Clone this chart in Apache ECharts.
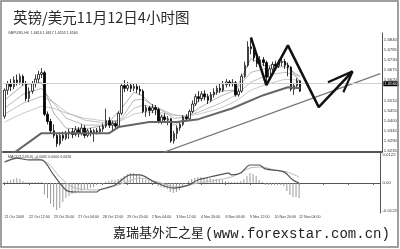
<!DOCTYPE html>
<html>
<head>
<meta charset="utf-8">
<script src="https://cdn.jsdelivr.net/npm/echarts@6/dist/echarts.min.js"></script>
<style>
  html, body { margin: 0; padding: 0; background: #fff; }
  #chart { width: 400px; height: 249px; }
</style>
</head>
<body>
<div id="chart"></div>
<script>
// GBP/USD 4-hour bars from 21 Oct 2009 04:00: [open, close, low, high]
const candles = [
  [1.6424,1.6565,1.6410,1.6575],[1.6565,1.6600,1.6540,1.6615],[1.6600,1.6585,1.6560,1.6625],
  [1.6585,1.6620,1.6570,1.6640],[1.6620,1.6608,1.6590,1.6650],[1.6608,1.6640,1.6595,1.6655],
  [1.6640,1.6600,1.6590,1.6650],[1.6600,1.6520,1.6505,1.6615],[1.6520,1.6560,1.6500,1.6580],
  [1.6560,1.6600,1.6545,1.6615],[1.6600,1.6625,1.6580,1.6650],[1.6625,1.6650,1.6605,1.6670],
  [1.6650,1.6660,1.6630,1.6685],[1.6660,1.6435,1.6425,1.6670],[1.6435,1.6395,1.6380,1.6450],
  [1.6395,1.6345,1.6330,1.6410],[1.6345,1.6320,1.6305,1.6380],[1.6320,1.6275,1.6258,1.6330],
  [1.6275,1.6320,1.6265,1.6335],[1.6320,1.6305,1.6290,1.6340],[1.6305,1.6330,1.6295,1.6345],
  [1.6330,1.6340,1.6300,1.6355],[1.6340,1.6325,1.6305,1.6360],[1.6325,1.6350,1.6315,1.6370],
  [1.6350,1.6330,1.6310,1.6365],[1.6330,1.6360,1.6320,1.6380],[1.6360,1.6320,1.6305,1.6375],
  [1.6320,1.6345,1.6310,1.6355],[1.6345,1.6330,1.6315,1.6360],[1.6330,1.6345,1.6285,1.6355],
  [1.6345,1.6340,1.6325,1.6360],[1.6340,1.6355,1.6330,1.6370],[1.6355,1.6370,1.6340,1.6385],
  [1.6370,1.6400,1.6360,1.6465],[1.6400,1.6375,1.6360,1.6420],[1.6375,1.6385,1.6345,1.6400],
  [1.6385,1.6370,1.6355,1.6395],[1.6370,1.6440,1.6360,1.6450],[1.6440,1.6590,1.6430,1.6600],
  [1.6590,1.6575,1.6555,1.6620],[1.6575,1.6590,1.6560,1.6610],[1.6590,1.6575,1.6555,1.6605],
  [1.6575,1.6585,1.6560,1.6600],[1.6585,1.6570,1.6550,1.6600],[1.6570,1.6560,1.6540,1.6590],
  [1.6560,1.6450,1.6440,1.6570],[1.6450,1.6470,1.6420,1.6485],[1.6470,1.6455,1.6425,1.6480],
  [1.6455,1.6470,1.6440,1.6490],[1.6470,1.6460,1.6430,1.6485],[1.6460,1.6395,1.6385,1.6470],
  [1.6395,1.6420,1.6380,1.6430],[1.6420,1.6405,1.6390,1.6440],[1.6405,1.6410,1.6375,1.6425],
  [1.6410,1.6290,1.6280,1.6415],[1.6290,1.6330,1.6275,1.6345],[1.6330,1.6360,1.6300,1.6375],
  [1.6360,1.6380,1.6345,1.6395],[1.6380,1.6420,1.6370,1.6430],[1.6420,1.6410,1.6395,1.6435],
  [1.6410,1.6450,1.6400,1.6460],[1.6450,1.6490,1.6440,1.6510],[1.6490,1.6530,1.6480,1.6545],
  [1.6530,1.6520,1.6500,1.6560],[1.6520,1.6545,1.6505,1.6560],[1.6545,1.6530,1.6510,1.6565],
  [1.6530,1.6510,1.6490,1.6545],[1.6510,1.6540,1.6500,1.6555],[1.6540,1.6555,1.6525,1.6575],
  [1.6555,1.6575,1.6540,1.6590],[1.6575,1.6565,1.6550,1.6600],[1.6565,1.6595,1.6555,1.6615],
  [1.6595,1.6610,1.6580,1.6625],[1.6610,1.6600,1.6585,1.6620],[1.6600,1.6605,1.6585,1.6625],
  [1.6605,1.6540,1.6530,1.6615],[1.6540,1.6560,1.6530,1.6575],[1.6560,1.6640,1.6550,1.6655],
  [1.6640,1.6700,1.6630,1.6720],[1.6700,1.6800,1.6690,1.6830],[1.6800,1.6790,1.6760,1.6845],
  [1.6790,1.6740,1.6720,1.6800],[1.6740,1.6710,1.6690,1.6760],[1.6710,1.6730,1.6700,1.6750],
  [1.6730,1.6715,1.6695,1.6745],[1.6715,1.6635,1.6610,1.6725],[1.6635,1.6680,1.6620,1.6695],
  [1.6680,1.6705,1.6665,1.6720],[1.6705,1.6695,1.6680,1.6725],[1.6695,1.6715,1.6685,1.6730],
  [1.6715,1.6720,1.6695,1.6740],[1.6720,1.6700,1.6680,1.6735],[1.6700,1.6690,1.6640,1.6715],
  [1.6690,1.6570,1.6560,1.6695],[1.6570,1.6590,1.6540,1.6605],[1.6590,1.6616,1.6575,1.6630],
  [1.6616,1.6560,1.6555,1.6617]
];

// Time-axis labels, one every 8 bars
const tickLabels = ['21 Oct 2009','22 Oct 12:00','23 Oct 20:00','27 Oct 04:00','28 Oct 12:00',
  '29 Oct 20:00','2 Nov 04:00','3 Nov 12:00','4 Nov 20:00','6 Nov 04:00','9 Nov 12:00',
  '10 Nov 20:00','12 Nov 04:00'];
const labelEvery = 8;
// bar slots including the empty space kept to the right of the last bar
const slotCount = 123;

// Price-scale labels (the current-price tag covers 1.6565)
const priceLabels = ['1.6235','1.6290','1.6345','1.6400','1.6455','1.6510',
  '1.6620','1.6675','1.6730','1.6785','1.6840'];
const macdLabels = ['-0.0122','0.00','0.0122'];

// Moving-average fan, [bar, price]
const maFast = [[0,1.6511],[6,1.6592],[12,1.6608],[16,1.6440],[20,1.6359],[26,1.6354],[33,1.6376],
  [38,1.6467],[42,1.6554],[45,1.6532],[50,1.6446],[55,1.6376],[59,1.6413],[63,1.6511],[70,1.6559],
  [75,1.6565],[80,1.6737],[85,1.6694],[91,1.6721],[96,1.6608]];
const maMid1 = [[0,1.6467],[6,1.6543],[12,1.6575],[16,1.6494],[20,1.6413],[26,1.6376],[33,1.6376],
  [38,1.6413],[42,1.6511],[45,1.6516],[50,1.6467],[55,1.6413],[59,1.6419],[63,1.6467],[70,1.6532],
  [75,1.6565],[80,1.6662],[85,1.6683],[91,1.6694],[96,1.6640]];
const maMid2 = [[0,1.6435],[6,1.6494],[12,1.6532],[16,1.6500],[20,1.6446],[26,1.6403],[33,1.6386],
  [38,1.6403],[42,1.6467],[45,1.6484],[50,1.6467],[55,1.6430],[59,1.6424],[63,1.6446],[70,1.6494],
  [75,1.6538],[80,1.6608],[85,1.6646],[91,1.6662],[96,1.6640]];
const maSlow = [[0,1.6392],[6,1.6440],[12,1.6478],[16,1.6467],[20,1.6440],[26,1.6413],[33,1.6397],
  [38,1.6403],[42,1.6435],[45,1.6446],[50,1.6446],[55,1.6430],[59,1.6424],[63,1.6435],[70,1.6467],
  [75,1.6505],[80,1.6565],[85,1.6597],[91,1.6624],[96,1.6619]];
const maLong = [[0,1.6205],[3,1.6224],[12,1.6332],[34,1.6332],[37,1.6365],[47,1.6392],[56,1.6392],
  [63,1.6408],[74,1.6467],[84,1.6538],[92,1.6581],[96,1.6575]];

// Rising support line and the hand-drawn projected path
const trendLine = [[51,1.6224],[122,1.6655]];
const projection = [[80,1.6851],[85,1.6592],[92,1.6808],[102,1.6473],[113,1.6667]];
const arrowBarbA = [[105,1.6608],[113,1.6667]];
const arrowBarbB = [[110,1.6554],[113,1.6667]];

// MACD(12,26,9): histogram per bar, main and signal lines as [bar, value]
const macdHist = [
  0.0004,0.0009,0.0013,0.0017,0.0022,0.0017,0.0009,0.0004,0.0004,0.0004,
  0.0004,0.0004,0.0004,-0.0050,-0.0065,-0.0090,-0.0104,-0.0117,-0.0108,-0.0082,
  -0.0065,-0.0056,-0.0048,-0.0043,-0.0039,-0.0035,-0.0030,-0.0026,-0.0022,-0.0017,
  -0.0009,-0.0004,-0.0004,0.0004,0.0009,0.0013,0.0013,0.0017,0.0022,0.0030,
  0.0039,0.0043,0.0043,0.0039,0.0035,0.0022,0.0013,0.0013,0.0009,0.0004,
  -0.0013,-0.0017,-0.0022,-0.0026,-0.0039,-0.0043,-0.0039,-0.0030,-0.0017,-0.0004,
  0.0009,0.0017,0.0022,0.0026,0.0026,0.0022,0.0022,0.0022,0.0017,0.0017,
  0.0013,0.0013,0.0009,0.0004,0.0004,0.0004,0.0004,0.0009,0.0017,0.0030,
  0.0043,0.0039,0.0030,0.0013,0.0004,-0.0009,-0.0009,-0.0009,-0.0009,-0.0009,
  -0.0009,-0.0013,-0.0035,-0.0052,-0.0061,-0.0061,-0.0065
];
const macdMain = [[0,0.0091],[4,0.0108],[8,0.0100],[12,0.0100],[16,0.0035],[20,-0.0030],[23,-0.0039],
  [30,-0.0039],[31,-0.0030],[36,-0.0009],[39,0.0022],[41,0.0035],[44,0.0035],[49,0.0004],[55,-0.0022],
  [60,-0.0009],[63,0.0013],[70,0.0035],[73,0.0043],[74,0.0035],[77,0.0043],[80,0.0078],[83,0.0078],
  [85,0.0061],[91,0.0048],[94,0.0013],[96,0.0000]];
const macdSignal = [[0,0.0091],[7,0.0113],[14,0.0087],[18,0.0026],[23,-0.0022],[30,-0.0030],[39,0.0000],
  [44,0.0022],[50,0.0004],[56,-0.0017],[63,0.0000],[74,0.0026],[80,0.0065],[84,0.0069],[88,0.0056],
  [92,0.0048],[96,0.0026]];

const categories = Array.from({ length: slotCount }, (_, i) => String(i));
const lastBar = candles[candles.length - 1];
const lastClose = lastBar[1].toFixed(4);
const headerText = 'GBPUSD,H4  ' + [lastBar[0], lastBar[3], lastBar[2], lastBar[1]].map(v => v.toFixed(4)).join(' ');
const macdHeader = 'MACD(12,26,9)  ' + macdHist[macdHist.length - 1].toFixed(4) + ' ' +
  macdMain[macdMain.length - 1][1].toFixed(4) + ' ' + macdSignal[macdSignal.length - 1][1].toFixed(4);

const axisFont = 'Liberation Sans';
const lineSeries = (data, color, width, extra) => Object.assign({
  type: 'line', data, xAxisIndex: 0, yAxisIndex: 0, showSymbol: false, symbol: 'none',
  silent: true, lineStyle: { color, width }, z: 3
}, extra || {});

const chart = echarts.init(document.getElementById('chart'), null, { renderer: 'canvas' });
chart.setOption({
  animation: false,
  backgroundColor: '#fff',
  grid: [
    { left: 3, right: 17, top: 33, height: 119 },
    { left: 3, right: 17, top: 153, height: 60 }
  ],
  xAxis: [
    {
      type: 'category', gridIndex: 0, data: categories, boundaryGap: true,
      axisLine: { show: true, lineStyle: { color: '#555', width: 2 } },
      axisTick: { show: false }, axisLabel: { show: false }, splitLine: { show: false }
    },
    {
      type: 'category', gridIndex: 1, data: categories, boundaryGap: true,
      axisLine: { show: true, lineStyle: { color: '#555', width: 1 } },
      axisTick: { show: true, interval: labelEvery - 1, length: 2, alignWithLabel: true, lineStyle: { color: '#666' } },
      axisLabel: {
        interval: labelEvery - 1, align: 'left', margin: 2, fontSize: 3.6, color: '#333', fontFamily: axisFont,
        formatter: (v, i) => (i % labelEvery === 0 && tickLabels[i / labelEvery]) || ''
      },
      splitLine: { show: false }
    }
  ],
  yAxis: [
    {
      type: 'value', gridIndex: 0, position: 'right', min: 1.6230, max: 1.6875, interval: 0.0005,
      axisLine: { show: true, lineStyle: { color: '#555', width: 1 } },
      axisTick: { show: false }, splitLine: { show: false },
      axisLabel: {
        margin: 2, fontSize: 4.3, color: '#333', fontFamily: axisFont,
        formatter: v => { const s = v.toFixed(4); return priceLabels.includes(s) ? s : ''; }
      }
    },
    {
      type: 'value', gridIndex: 1, position: 'right', min: -0.0130, max: 0.0130, interval: 0.0001,
      axisLine: { show: true, lineStyle: { color: '#555', width: 1 } },
      axisTick: { show: false }, splitLine: { show: false },
      axisLabel: {
        margin: 2, fontSize: 4.3, color: '#333', fontFamily: axisFont,
        formatter: v => {
          for (const l of macdLabels) { if (Math.abs(v - parseFloat(l)) < 5e-6) return l; }
          return '';
        }
      }
    }
  ],
  series: [
    lineSeries(maSlow, '#bdbdbd', 0.8, { z: 1 }),
    lineSeries(maMid2, '#b0b0b0', 0.8, { z: 1 }),
    lineSeries(maMid1, '#a6a6a6', 0.8, { z: 1 }),
    lineSeries(maFast, '#9a9a9a', 0.8, { z: 1 }),
    {
      name: 'GBPUSD,H4', type: 'candlestick', data: candles, xAxisIndex: 0, yAxisIndex: 0,
      barWidth: 2, silent: true, z: 2,
      itemStyle: { color: '#fff', color0: '#000', borderColor: '#111', borderColor0: '#000', borderWidth: 0.8 },
      markLine: {
        silent: true, symbol: 'none', animation: false,
        lineStyle: { color: '#cfcfcf', width: 1, type: 'solid' },
        label: {
          show: true, position: 'end', distance: 1.5, formatter: lastClose,
          backgroundColor: '#000', color: '#fff', fontSize: 4.3, fontFamily: axisFont, padding: [0.5, 1]
        },
        data: [{ yAxis: lastBar[1] }]
      }
    },
    lineSeries(maLong, '#666', 2, { z: 3 }),
    lineSeries(trendLine, '#777', 1.2, { z: 4 }),
    lineSeries(projection, '#111', 2.5, { z: 5 }),
    lineSeries(arrowBarbA, '#111', 2.2, { z: 5 }),
    lineSeries(arrowBarbB, '#111', 2.2, { z: 5 }),
    {
      type: 'bar', data: macdHist, xAxisIndex: 1, yAxisIndex: 1, barWidth: 1, silent: true,
      itemStyle: { color: '#9a9a9a' }
    },
    {
      type: 'line', data: macdSignal, xAxisIndex: 1, yAxisIndex: 1, showSymbol: false, symbol: 'none',
      smooth: 0.3, silent: true, lineStyle: { color: '#bbb', width: 1 }
    },
    {
      type: 'line', data: macdMain, xAxisIndex: 1, yAxisIndex: 1, showSymbol: false, symbol: 'none',
      smooth: 0.3, silent: true, lineStyle: { color: '#555', width: 1.2 }
    }
  ],
  graphic: [
    {
      type: 'rect', silent: true, z: 100,
      shape: { x: 1, y: 1, width: 397, height: 246 },
      style: { fill: 'none', stroke: '#808080', lineWidth: 1.5 }
    },
    {
      type: 'text', left: 13, top: 10, silent: true,
      style: { text: '英镑/美元11月12日4小时图', font: '14.5px "Noto Sans CJK SC"', fill: '#2a2a2a' }
    },
    {
      type: 'text', left: 8, top: 31, silent: true,
      style: { text: headerText, font: '3.6px "Liberation Sans"', fill: '#333' }
    },
    {
      type: 'text', left: 8, top: 154.5, silent: true,
      style: { text: macdHeader, font: '3.6px "Liberation Sans"', fill: '#333' }
    },
    {
      type: 'text', left: 113, top: 226, silent: true,
      style: { text: '嘉瑞基外汇之星', font: '13px "Noto Sans CJK SC"', fill: '#222' }
    },
    {
      type: 'text', left: 205, top: 227, silent: true,
      style: { text: '(www.forexstar.com.cn)', font: '14px "Liberation Mono"', fill: '#222' }
    }
  ]
});
</script>
</body>
</html>
